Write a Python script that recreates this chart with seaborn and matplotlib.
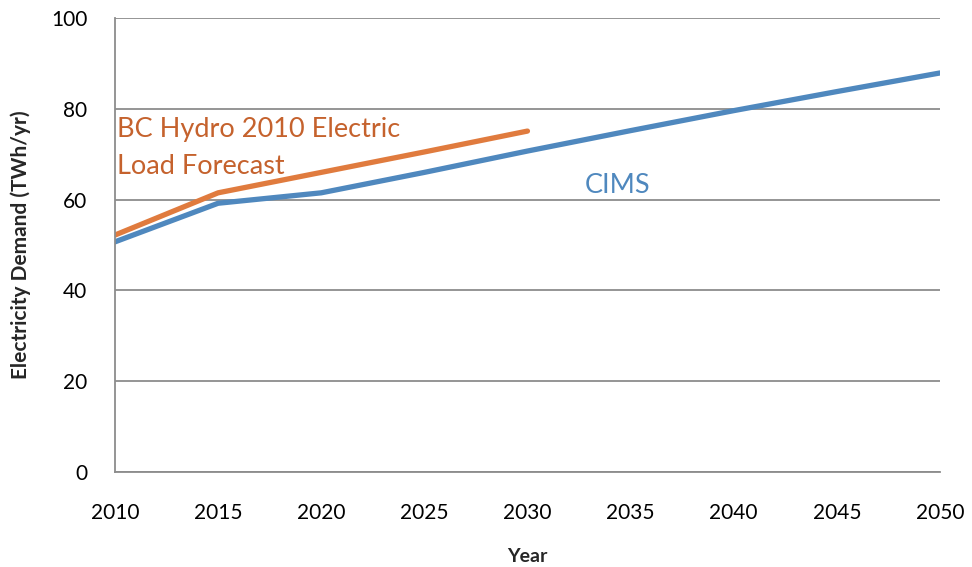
import matplotlib
matplotlib.use("Agg")
import matplotlib.pyplot as plt
import seaborn as sns
import pandas as pd

years_cims = [2010, 2015, 2020, 2025, 2030, 2035, 2040, 2045, 2050]
cims = [50.7, 59.2, 61.5, 66.0, 70.7, 75.2, 79.6, 83.8, 87.9]
years_bch = [2010, 2015, 2020, 2025, 2030]
bch = [52.2, 61.5, 66.0, 70.5, 75.1]
x_ticks = [2010, 2015, 2020, 2025, 2030, 2035, 2040, 2045, 2050]
y_ticks = [0, 20, 40, 60, 80, 100]

df = pd.concat([
    pd.DataFrame({"Year": years_cims, "Demand": cims, "Series": "CIMS"}),
    pd.DataFrame({"Year": years_bch, "Demand": bch, "Series": "BC Hydro"}),
])

sns.set_style("white")
plt.rcParams['font.family'] = ['Lato', 'DejaVu Sans']

fig = plt.figure(figsize=(9.72, 5.67), dpi=100)
ax = fig.add_axes([0.1183, 0.1675, 0.8487, 0.8007])

palette = {"CIMS": "#4F88BE", "BC Hydro": "#E07B3E"}
sns.lineplot(data=df, x="Year", y="Demand", hue="Series", palette=palette,
             linewidth=3.8, ax=ax, legend=False, solid_capstyle="round",
             hue_order=["CIMS", "BC Hydro"])

ax.set_xlim(2010, 2050)
ax.set_ylim(0, 100)
ax.set_xticks(x_ticks)
ax.set_yticks(y_ticks)
ax.set_xticklabels([str(t) for t in x_ticks], fontsize=15)
ax.set_yticklabels([str(t) for t in y_ticks], fontsize=15)
ax.yaxis.grid(True, color="#8C8C8C", linewidth=1.3)
ax.set_axisbelow(True)
for s in ["top", "right"]:
    ax.spines[s].set_visible(False)
for s in ["left", "bottom"]:
    ax.spines[s].set_color("#8C8C8C")
    ax.spines[s].set_linewidth(1.3)
ax.tick_params(axis="both", direction="out", length=6, width=1.3, color="#8C8C8C",
               labelcolor="black")
ax.tick_params(axis="x", pad=16)
ax.tick_params(axis="y", pad=14)
ax.set_xlabel("Year", fontsize=14, fontweight="bold", labelpad=18)
ax.set_ylabel("Electricity Demand (TWh/yr)", fontsize=15, fontweight="bold", labelpad=14)

ax.text(2010.1, 73.8, "BC Hydro 2010 Electric", color="#C5622D", fontsize=19.5, va="baseline", ha="left")
ax.text(2010.1, 65.6, "Load Forecast", color="#C5622D", fontsize=19.5, va="baseline", ha="left")
ax.text(2032.8, 61.5, "CIMS", color="#4F88BE", fontsize=19.5, va="baseline", ha="left")

fig.savefig("out.png", dpi=100)
